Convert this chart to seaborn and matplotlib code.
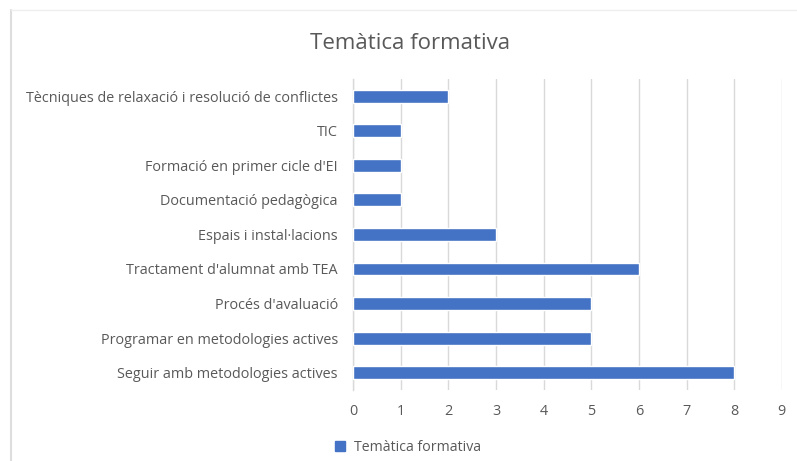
import seaborn as sns
import numpy as np
import pandas as pd
import matplotlib.pyplot as plt
from matplotlib.lines import Line2D

#######   data   #############
title = "Temàtica formativa"
series_name = "Temàtica formativa"
categories = [
    "Tècniques de relaxació i resolució de conflictes",
    "TIC",
    "Formació en primer cicle d'EI",
    "Documentació pedagògica",
    "Espais i instal·lacions",
    "Tractament d'alumnat amb TEA",
    "Procés d'avaluació",
    "Programar en metodologies actives",
    "Seguir amb metodologies actives",
]
values = [2, 1, 1, 1, 3, 6, 5, 5, 8]
x_ticks = [0, 1, 2, 3, 4, 5, 6, 7, 8, 9]

BAR = "#4472C4"
TXT = "#595959"
GRID = "#D9D9D9"

sns.set_style("white")
plt.rcParams['font.family'] = ['Open Sans', 'DejaVu Sans']

df = pd.DataFrame({"cat": categories, "val": values})

fig = plt.figure(figsize=(7.97, 4.61), dpi=100)
ax = fig.add_axes([0.443, 0.154, 0.538, 0.675])

sns.barplot(data=df, y="cat", x="val", color=BAR, width=0.37, saturation=1,
            orient="h", ax=ax, zorder=3)

ax.set_xlim(0, 9)
ax.set_ylim(len(categories) - 0.5, -0.5)
ax.set_xticks(x_ticks)
ax.set_xlabel("")
ax.set_ylabel("")
ax.xaxis.grid(True, color=GRID, linewidth=1, zorder=0)
ax.set_axisbelow(True)
for s in ["top", "right", "bottom"]:
  ax.spines[s].set_visible(False)
ax.spines["left"].set_color(GRID)
ax.spines["left"].set_linewidth(1)
ax.tick_params(axis="both", length=0, colors=TXT, labelsize=10.4)
ax.tick_params(axis="y", pad=11)
ax.tick_params(axis="x", pad=10)

fig.text(0.514, 0.906, title, ha="center", va="center", fontsize=16, color=TXT)

#legend
h = [Line2D([], [], marker="s", linestyle="", color=BAR, markersize=7)]
fig.legend(h, [series_name], loc="center left", bbox_to_anchor=(0.393, 0.03),
           frameon=False, fontsize=10.2, labelcolor=TXT, handletextpad=0.0)

#frame of the screenshot
fig.add_artist(Line2D([11/797, 11/797], [0, 1 - 10/461], transform=fig.transFigure,
                      color="#DDDDDD", linewidth=1.5))
fig.add_artist(Line2D([11/797, 1], [1 - 10/461, 1 - 10/461], transform=fig.transFigure,
                      color="#EEEEEE", linewidth=1))

plt.savefig("out.png", dpi=100)
